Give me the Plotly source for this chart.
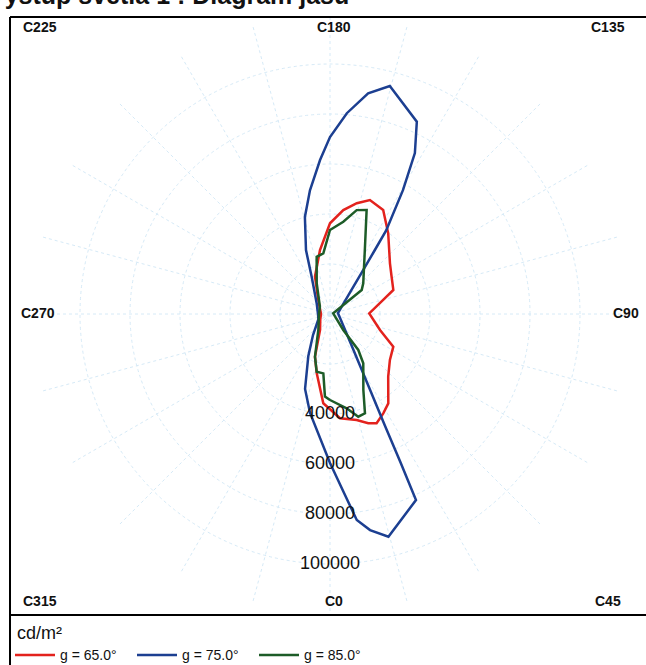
import plotly.graph_objects as go

# ---- data (C-plane angle in degrees, luminance in cd/m2) ----
c_65 = [0, 5.5, 14.1, 19.3, 23.1, 28.2, 33.1, 42.9, 52.5, 62.7, 72.3, 91.0, 104, 110.8,
        121.2, 130.2, 144.2, 152.9, 160.7, 166.4, 172.7, 180, 188.9, 201.9, 219.9, 270,
        300, 328, 340.6, 347.4, 355.7, 360]
l_65 = [38100, 41900, 43700, 46300, 47500, 45100, 42700, 34200, 30200, 28500, 21000, 15700,
        21400, 27100, 28800, 31400, 39800, 46700, 48300, 45600, 41900, 36300, 25900, 16100,
        7300, 3600, 4500, 7500, 18100, 24300, 35800, 38100]

c_75 = [0, 4.3, 7.4, 10.5, 14.7, 24.8, 25.4, 26.2, 28.0, 33.0, 41.8, 97.1, 137.2, 142.7,
        144.9, 146.1, 149.5, 152.2, 155.7, 165.3, 170.2, 175.2, 180, 183.7, 189.2, 194.5,
        200.6, 206.3, 232.2, 270, 294.4, 321.0, 332.7, 341.6, 348.6, 360]
l_75 = [59600, 71200, 83100, 87900, 92100, 82000, 65800, 49600, 33400, 17400, 9500, 3200,
        11800, 21300, 30800, 40300, 57500, 72800, 84400, 94300, 89600, 80600, 70800, 61700,
        50100, 40100, 27300, 16500, 6700, 4800, 5100, 10800, 18900, 31600, 40400, 59600]

c_85 = [0, 10.0, 15.4, 19.4, 23.7, 34.0, 38.2, 39.7, 102, 127.1, 132.7, 152.5, 160.6, 165.6,
        171.8, 180, 186.3, 193.1, 203.4, 233.9, 270, 323.8, 340.6, 347.0, 353.6, 356.5, 360]
l_85 = [34400, 38300, 42600, 42100, 33200, 23800, 18300, 8300, 1300, 15900, 18100, 30300,
        44100, 42900, 37300, 33600, 24400, 23500, 13400, 5000, 4400, 7900, 18100, 23700,
        23900, 33100, 34400]

series_names = ["g = 65.0°", "g = 75.0°", "g = 85.0°"]
series_colors = ["#e3221d", "#1c3f91", "#1d5c28"]

radial_ticks = [20000, 40000, 60000, 80000, 100000]
radial_labels = ["40000", "60000", "80000", "100000"]
radial_label_values = [40000, 60000, 80000, 100000]

angle_labels = ["C225", "C180", "C135", "C270", "C90", "C315", "C0", "C45"]

title_text = "Výstup svetla 1 : Diagram jasu"
unit_text = "cd/m²"

# ---- figure ----
W, H = 646, 665
FONT = "Liberation Sans, Arial, sans-serif"


def px_x(x):
    return x / W


def px_y(y):
    return 1 - y / H


fig = go.Figure()
for name, c, l, col in zip(series_names, [c_65, c_75, c_85], [l_65, l_75, l_85], series_colors):
    fig.add_trace(go.Scatterpolar(r=l, theta=c, mode="lines", name=name,
                                  line=dict(color=col, width=2.5)))

fig.add_trace(go.Scatterpolar(r=radial_label_values, theta=[0] * len(radial_label_values),
                              mode="text", text=radial_labels, textposition="middle center",
                              textfont=dict(family=FONT, size=18, color="#111111"),
                              showlegend=False, hoverinfo="skip"))

grid_col = "#d6eaf7"
fig.update_layout(
    width=W, height=H,
    margin=dict(l=0, r=0, t=0, b=0, autoexpand=False),
    paper_bgcolor="white",
    font=dict(family=FONT, color="#111111"),
    polar=dict(
        domain=dict(x=[px_x(30), px_x(630)], y=[px_y(614), px_y(14)]),
        bgcolor="white",
        angularaxis=dict(rotation=270, direction="counterclockwise", dtick=15,
                         showticklabels=False, ticks="", showline=False,
                         gridcolor=grid_col, gridwidth=1, griddash="dot"),
        radialaxis=dict(range=[0, 120000], tickvals=radial_ticks, showticklabels=False,
                        ticks="", showline=False, gridcolor=grid_col, gridwidth=1,
                        griddash="dot"),
    ),
    showlegend=True,
    legend=dict(orientation="h", x=px_x(10), xanchor="left", y=px_y(616), yanchor="top",
                itemwidth=40, entrywidth=67, font=dict(family=FONT, size=14, color="#111111"),
                title=dict(text="\u00a0" + unit_text, side="top",
                           font=dict(family=FONT, size=18)),
                bgcolor="rgba(0,0,0,0)"),
)

# frame lines
frame = dict(type="line", xref="paper", yref="paper", line=dict(color="black", width=2))
fig.add_shape(**frame, x0=px_x(10), x1=px_x(10), y0=0, y1=px_y(17))
fig.add_shape(**frame, x0=px_x(10), x1=1, y0=px_y(17), y1=px_y(17))
fig.add_shape(**frame, x0=px_x(10), x1=1, y0=px_y(615), y1=px_y(615))

# angle labels around the frame
label_pos = [(40, 27), (334, 27), (608, 27), (38, 313), (626, 313),
             (40, 601), (334, 601), (608, 601)]
for txt, (x, y) in zip(angle_labels, label_pos):
    fig.add_annotation(text="<b>" + txt + "</b>", x=px_x(x), y=px_y(y),
                       xref="paper", yref="paper", showarrow=False,
                       xanchor="center", yanchor="middle",
                       font=dict(family=FONT, size=14, color="#111111"))

# title (cut at the top edge as in the source)
fig.add_annotation(text="<b>" + title_text + "</b>", x=px_x(-14), y=px_y(11),
                   xref="paper", yref="paper", showarrow=False, xanchor="left",
                   yanchor="bottom", font=dict(family=FONT, size=25, color="#111111"))

fig.write_html("out.html", config={"displayModeBar": False},
               post_script="document.body.style.margin='0';")
